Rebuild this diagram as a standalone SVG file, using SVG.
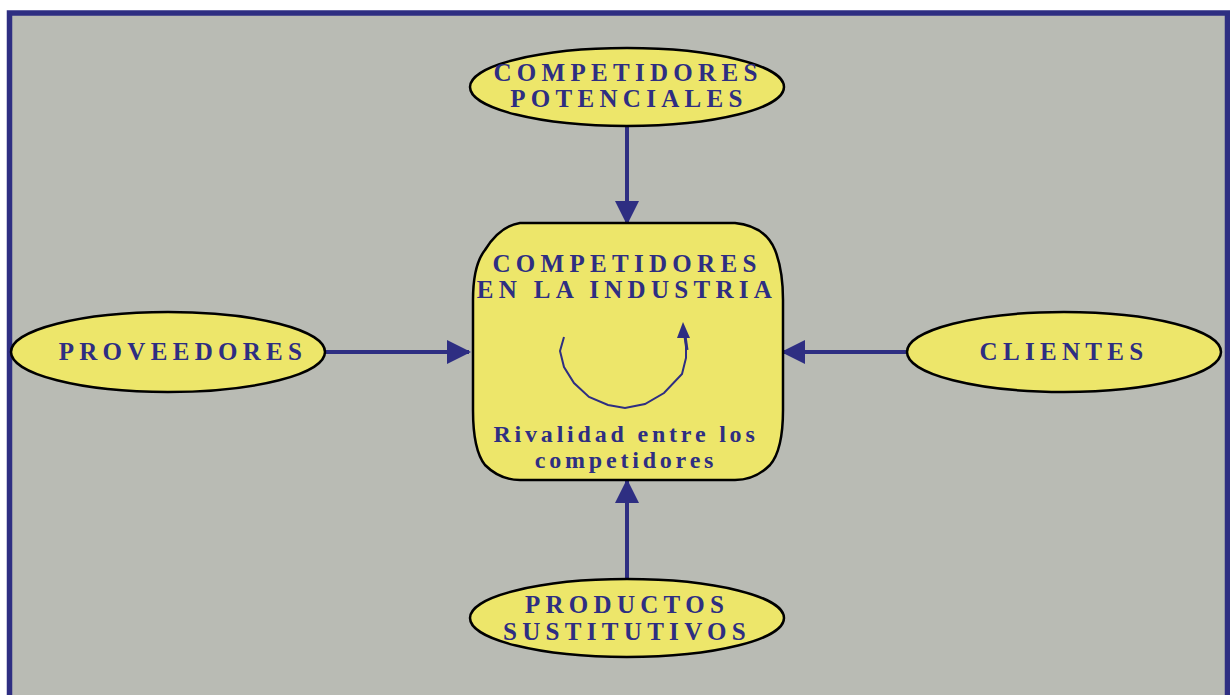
<svg xmlns="http://www.w3.org/2000/svg" width="1230" height="695" viewBox="0 0 1230 695">
<defs>
<marker id="ah" markerWidth="24" markerHeight="24" viewBox="0 0 24 24" refX="22" refY="12" orient="auto" markerUnits="userSpaceOnUse">
<path d="M0,0 L24,12 L0,24 Z" fill="#2e2e82"/>
</marker>
</defs>
<style>
.node{fill:#ede66a;stroke:#000;stroke-width:2.5}
.t{font-family:"Liberation Serif","Times New Roman",serif;font-weight:bold;fill:#2e2e82;text-anchor:middle}
.big{font-size:25px;letter-spacing:5.3px}
.small{font-size:24px;letter-spacing:3.8px}
.conn{stroke:#2e2e82;stroke-width:4;fill:none;marker-end:url(#ah)}
</style>
<rect x="0" y="0" width="1230" height="695" fill="#ffffff"/>
<rect x="9.5" y="13" width="1218" height="700" fill="#b9bbb4" stroke="#2e2e82" stroke-width="5.5"/>
<g id="connectors">
<line class="conn" x1="627" y1="127" x2="627" y2="223"/>
<line class="conn" x1="325" y1="352" x2="469" y2="352"/>
<line class="conn" x1="906" y1="352" x2="783" y2="352"/>
<line class="conn" x1="627" y1="579" x2="627" y2="481"/>
</g>
<g id="competidores-potenciales">
<ellipse class="node" cx="627" cy="87" rx="157" ry="39"/>
<text class="t big" x="628" y="81">COMPETIDORES</text>
<text class="t big" x="629" y="107">POTENCIALES</text>
</g>
<g id="proveedores">
<ellipse class="node" cx="168" cy="352" rx="157" ry="40"/>
<text class="t big" x="183" y="360">PROVEEDORES</text>
</g>
<g id="clientes">
<ellipse class="node" cx="1064" cy="352" rx="157" ry="40"/>
<text class="t big" x="1064" y="360">CLIENTES</text>
</g>
<g id="productos-sustitutivos">
<ellipse class="node" cx="627" cy="618" rx="157" ry="39"/>
<text class="t big" x="627" y="613">PRODUCTOS</text>
<text class="t big" x="627" y="640">SUSTITUTIVOS</text>
</g>
<g id="competidores-industria">
<path class="node" d="M520,223 L735,223 Q765,226 775,250 Q783,270 783,300 L783,410 Q783,450 770,465 Q755,480 735,480 L520,480 Q500,480 485,465 Q473,450 473,410 L473,300 Q473,265 485,250 Q500,226 520,223 Z"/>
<text class="t big" x="627" y="272">COMPETIDORES</text>
<text class="t big" x="627" y="298">EN LA INDUSTRIA</text>
<polyline points="564,337 560,351 564,367 574,383 589,397 608,405 625,408 645,404 664,393 682,374 686,358 686,345 685,336" fill="none" stroke="#2e2e82" stroke-width="2"/>
<path d="M683,322 L677,338 L690,338 Z" fill="#2e2e82"/>
<line x1="685" y1="336" x2="687" y2="350" stroke="#2e2e82" stroke-width="3"/>
<text class="t small" x="626" y="442">Rivalidad entre los</text>
<text class="t small" x="626" y="468">competidores</text>
</g>
</svg>
